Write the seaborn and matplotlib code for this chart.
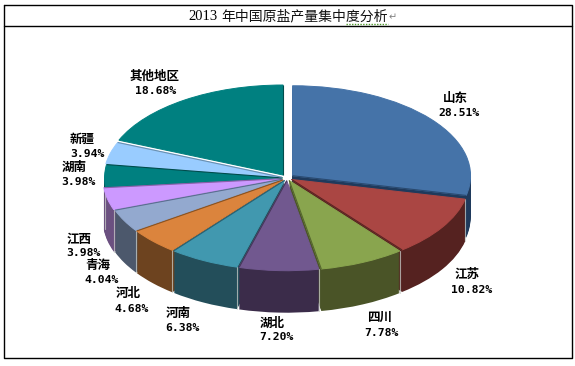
import numpy as np
import matplotlib
matplotlib.use("Agg")
import matplotlib.pyplot as plt
import seaborn as sns

regions = ["山东", "江苏", "四川", "湖北", "河南", "河北", "青海", "江西", "湖南", "新疆", "其他地区"]
shares = [28.51, 10.82, 7.78, 7.20, 6.38, 4.68, 4.04, 3.98, 3.98, 3.94, 18.68]
title_cn = "年中国原盐产量集中度分析"
title_year = "2013"

top_colors = ["#4573A8", "#AA4643", "#89A54E", "#71588F", "#4198AF", "#DB843D",
              "#93A9CF", "#CC99FF", "#008080", "#99CCFF", "#008080"]
side_colors = ["#1F3A5C", "#552220", "#4A5427", "#3B2C4A", "#234E5A", "#6D431F",
               "#4C586C", "#6B5080", "#004848", "#FFFFFF", "#FFFFFF"]
edge_colors = ["#2A4A70", "#5A2422", "#55662E", "#46365A", "#2A6070", "#8A5220",
               "#5A6E90", "#8A60AA", "#004C4C", "#6A90B0", "#004C4C"]
explode = [0.04, 0.03, 0.03, 0.03, 0.03, 0.03, 0.03, 0.035, 0.025, 0.03, 0.04]

# label anchor positions in image pixels: (name xy, value xy)
name_xy = [(455, 98), (467, 274), (380, 317), (272, 323), (178, 313), (128, 294),
           (98, 266), (79, 239), (74, 167), (82, 139), (155, 76)]
value_xy = [(459, 113), (472, 290), (381, 333), (276, 337), (182, 328), (132, 309),
            (102, 280), (83, 253), (78, 182), (87, 154), (156, 91)]

W, H = 575, 366
CX, CY, RX, RY, DEPTH = 287, 178, 178, 90, 42

sns.set_theme(style="white", palette=top_colors)
plt.rcParams["font.family"] = ["Noto Sans CJK SC", "DejaVu Sans"]

fig = plt.figure(figsize=(W / 100, H / 100), dpi=100, facecolor="white")
ax = fig.add_axes([0, 0, 1, 1])

# extrude: stack of pies, from the bottom layer upwards
for d in range(DEPTH, 1, -1):
    ax.pie(shares, colors=side_colors, startangle=90, counterclock=False,
           explode=explode, center=(0, -d / RY), radius=1, wedgeprops=dict(linewidth=0))

fractions = np.cumsum(shares) / np.sum(shares)
starts = np.concatenate([[0], fractions[:-1]])

# light seams on the side walls at slice corners
for i, (s, e) in enumerate(zip(starts, fractions)):
    mid = np.deg2rad(90 - 360 * (s + e) / 2)
    ox, oy = explode[i] * np.cos(mid), explode[i] * np.sin(mid)
    a = np.deg2rad(90 - 360 * s)
    if 0.02 < s < 0.8 and np.sin(a) < 0:
        x, y = ox + np.cos(a), oy + np.sin(a)
        ax.plot([x, x], [y, y - DEPTH / RY], color="#C8CCC8", lw=0.8, alpha=0.75, zorder=3)

wedges, _ = ax.pie(shares, colors=top_colors, startangle=90, counterclock=False,
                   explode=explode, radius=1, wedgeprops=dict(linewidth=0.7))
for w, c in zip(wedges, top_colors):
    w.set_edgecolor(c)
    w.set_zorder(4)

# radial slice edges only (the rims carry no outline)
for i, (s, e) in enumerate(zip(starts, fractions)):
    mid = np.deg2rad(90 - 360 * (s + e) / 2)
    ox, oy = explode[i] * np.cos(mid), explode[i] * np.sin(mid)
    a = np.deg2rad(90 - 360 * e)
    ax.plot([ox, ox + np.cos(a)], [oy, oy + np.sin(a)], color=edge_colors[i], lw=0.8, zorder=5,
            solid_capstyle="butt")

ax.set_aspect("auto")
ax.set_xlim(-CX / RX, (W - CX) / RX)
ax.set_ylim(-(H - CY) / RY, CY / RY)
ax.axis("off")

# overlay in pixel coordinates: table frame and labels
ov = fig.add_axes([0, 0, 1, 1], facecolor="none")
ov.set_xlim(0, W)
ov.set_ylim(H, 0)
ov.axis("off")
ov.plot([3.5, 572, 572, 3.5, 3.5], [4.5, 4.5, 358, 358, 4.5], color="black", lw=1.0)
ov.plot([3.5, 572], [25.5, 25.5], color="black", lw=1.0)

ov.text(188, 16, title_year, family=["Liberation Serif"], fontsize=10.5,
        ha="left", va="center", color="black")
ov.text(221, 16, title_cn, family=["Noto Sans CJK SC"], fontsize=10,
        ha="left", va="center", color="#111111")
ov.text(393, 17, "↵", family=["DejaVu Sans"], fontsize=7, ha="center", va="center", color="#808080")
ov.plot([346, 388], [23.6, 23.6], color="#4E9A2A", lw=1.0, ls=(0, (1, 1)))

for name, v, nxy, vxy in zip(regions, shares, name_xy, value_xy):
    ov.text(*nxy, name, family=["Noto Sans CJK SC"], fontsize=9, fontweight="bold",
            ha="center", va="center", color="black")
    ov.text(*vxy, f"{v:.2f}%", family=["DejaVu Sans Mono"], fontsize=8.2, fontweight="bold",
            ha="center", va="center", color="black")

fig.savefig("out.png", dpi=100, facecolor="white")
